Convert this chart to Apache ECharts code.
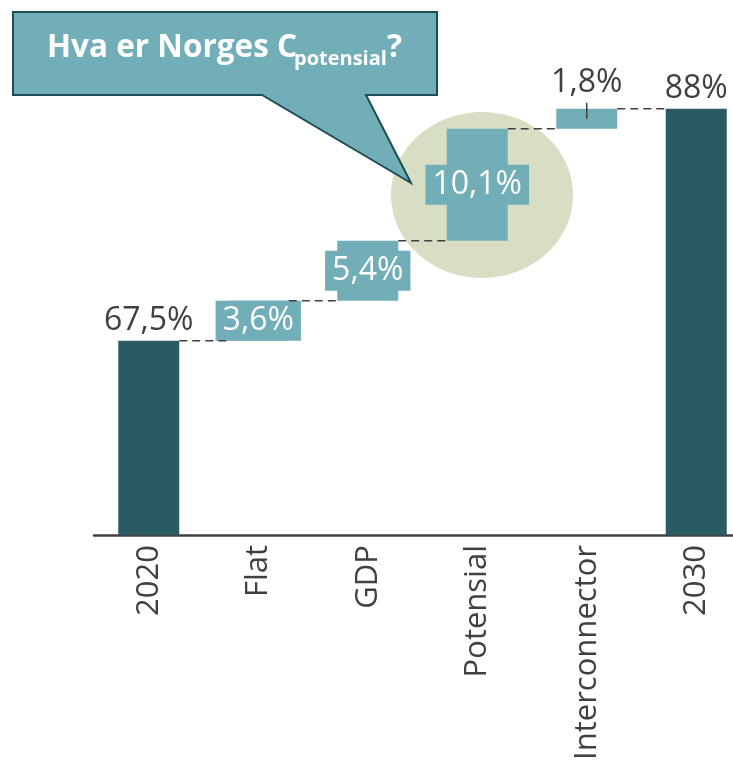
<!DOCTYPE html>
<html>
<head>
<meta charset="utf-8">
<script src="https://cdn.jsdelivr.net/npm/echarts@6/dist/echarts.min.js"></script>
<style>
  html, body { margin: 0; padding: 0; background: #fff; }
  #chart-container { width: 733px; height: 760px; }
</style>
</head>
<body>
<div id="chart-container"></div>
<script>
var categories = ['2020', 'Flat', 'GDP', 'Potensial', 'Interconnector', '2030'];
var barValues = [67.5, 3.6, 5.4, 10.1, 1.8, 88.4];
var isTotal = [true, false, false, false, false, true];
var valueLabels = ['67,5%', '3,6%', '5,4%', '10,1%', '1,8%', '88%'];
var labelAbove = [true, false, false, false, true, true];

var darkColor = '#2a5a62';
var lightColor = '#72aeb8';
var textColor = '#404040';
var fontName = 'Open Sans';

// invisible base + visible part, waterfall style
var baseData = [];
var visibleData = [];
var connectorData = [];
var leaderData = [];
var running = 0;
for (var i = 0; i < categories.length; i++) {
  var barBase = isTotal[i] ? 0 : running;
  var barTop = isTotal[i] ? barValues[i] : running + barValues[i];
  baseData.push(barBase);
  var item = {
    value: barValues[i],
    itemStyle: { color: isTotal[i] ? darkColor : lightColor }
  };
  if (labelAbove[i]) {
    item.label = {
      show: true,
      position: 'top',
      distance: 4,
      color: textColor,
      fontSize: 32,
      fontFamily: fontName,
      formatter: valueLabels[i]
    };
    if (!isTotal[i]) {
      item.label.distance = 10;
      leaderData.push([i, barBase + barValues[i] / 2, barTop]);
    }
  } else {
    item.label = {
      show: true,
      position: 'inside',
      color: '#ffffff',
      fontSize: 32,
      fontFamily: fontName,
      lineHeight: 40,
      padding: [0, 7],
      backgroundColor: lightColor,
      formatter: valueLabels[i]
    };
  }
  visibleData.push(item);
  running = barTop;
  if (i < categories.length - 1) connectorData.push([i, barTop]);
}

var barW = 61;

var dom = document.getElementById('chart-container');
var myChart = echarts.init(dom, null, { renderer: 'canvas' });

var option = {
  animation: false,
  grid: { left: 94, right: -18, top: 91, bottom: 225, containLabel: false, outerBoundsMode: 'none' },
  xAxis: {
    type: 'category',
    data: categories,
    axisLine: { lineStyle: { color: textColor, width: 2.5 } },
    axisTick: { show: false },
    axisLabel: {
      rotate: 90,
      margin: 10,
      color: textColor,
      fontSize: 31,
      fontFamily: fontName,
      interval: 0
    }
  },
  yAxis: {
    type: 'value',
    min: 50,
    max: 90,
    show: false,
    splitLine: { show: false }
  },
  graphic: [
    {
      type: 'ellipse',
      z: -10,
      shape: { cx: 482, cy: 195, rx: 91, ry: 83 },
      style: { fill: '#d8dec4' }
    },
    {
      type: 'polygon',
      z: 100,
      shape: {
        points: [[13, 12], [437, 12], [437, 95], [366, 95], [411, 183], [262, 95], [13, 95]]
      },
      style: { fill: lightColor, stroke: '#1f4d55', lineWidth: 2 }
    },
    {
      type: 'text',
      z: 101,
      x: 47,
      y: 64,
      style: {
        text: 'Hva er Norges C',
        font: 'bold 31.5px "Open Sans"',
        fill: '#ffffff',
        verticalAlign: 'bottom'
      }
    },
    {
      type: 'text',
      z: 101,
      x: 294,
      y: 69,
      style: {
        text: 'potensial',
        font: 'bold 20px "Open Sans"',
        fill: '#ffffff',
        verticalAlign: 'bottom'
      }
    },
    {
      type: 'text',
      z: 101,
      x: 387,
      y: 64,
      style: {
        text: '?',
        font: 'bold 31.5px "Open Sans"',
        fill: '#ffffff',
        verticalAlign: 'bottom'
      }
    }
  ],
  series: [
    {
      name: 'base',
      type: 'bar',
      stack: 'wf',
      barWidth: barW,
      itemStyle: { color: 'transparent' },
      emphasis: { disabled: true },
      data: baseData
    },
    {
      name: 'value',
      type: 'bar',
      stack: 'wf',
      barWidth: barW,
      data: visibleData
    },
    {
      name: 'connectors',
      type: 'custom',
      z: 3,
      renderItem: function (params, api) {
        var p = api.coord([api.value(0), api.value(1)]);
        var band = api.size([1, 0])[0];
        return {
          type: 'line',
          shape: { x1: p[0] + barW / 2, y1: p[1], x2: p[0] + band - barW / 2, y2: p[1] },
          style: { stroke: textColor, lineWidth: 1.5, lineDash: [8, 5] }
        };
      },
      encode: { x: 0, y: 1 },
      data: connectorData
    },
    {
      name: 'leader',
      type: 'custom',
      z: 3,
      renderItem: function (params, api) {
        var mid = api.coord([api.value(0), api.value(1)]);
        var tp = api.coord([api.value(0), api.value(2)]);
        return {
          type: 'line',
          shape: { x1: mid[0], y1: mid[1], x2: mid[0], y2: tp[1] - 6 },
          style: { stroke: textColor, lineWidth: 1.5 }
        };
      },
      encode: { x: 0, y: 1 },
      data: leaderData
    }
  ]
};

myChart.setOption(option);
window.addEventListener('resize', myChart.resize);
</script>
</body>
</html>
